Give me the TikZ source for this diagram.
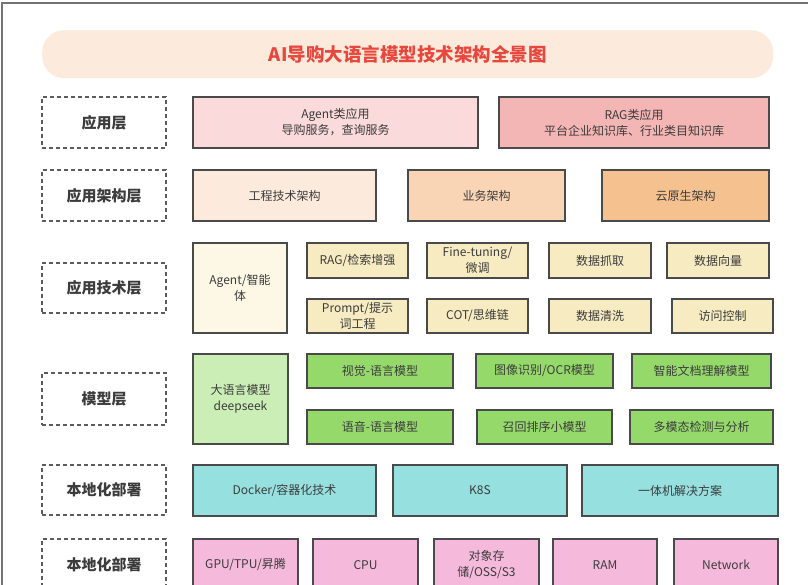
\documentclass[tikz,border=0pt]{standalone}
\usepackage{fontspec}
\setmainfont{Noto Sans CJK SC}
\definecolor{txt}{HTML}{3C3C3C}
\definecolor{bd}{HTML}{4A4A4A}
\definecolor{titlebg}{HTML}{FCEBDC}
\definecolor{titlefg}{HTML}{E8473E}
\definecolor{cA}{HTML}{FADADB}
\definecolor{cB}{HTML}{F4B6B5}
\definecolor{cC}{HTML}{FCEBDC}
\definecolor{cD}{HTML}{F9D5B5}
\definecolor{cE}{HTML}{F4C18F}
\definecolor{cF}{HTML}{FDF8E5}
\definecolor{cG}{HTML}{F6EBC1}
\definecolor{cH}{HTML}{CBEEB6}
\definecolor{cI}{HTML}{95D96B}
\definecolor{cJ}{HTML}{97E0E0}
\definecolor{cK}{HTML}{F5B9DB}
\tikzset{
  boxbase/.style={draw=bd, line width=1.4pt, anchor=north west, inner sep=0pt, outer sep=0pt,
    align=center, text=txt, font=\fontsize{12}{16}\selectfont},
  layerlbl/.style={draw=bd!90, dashed, dash pattern=on 4pt off 3pt, line width=1.3pt, anchor=north west,
    inner sep=0pt, outer sep=0pt, align=center, text=txt, font=\fontsize{15}{18}\selectfont\bfseries},
}
% box: name, x1, y1, x2, y2, color, text
\newcommand\mybox[7]{%
  \pgfmathsetmacro\bw{#4-#2}\pgfmathsetmacro\bh{#5-#3}%
  \node[boxbase, fill=#6, minimum width=\bw pt, minimum height=\bh pt] (#1) at (#2,#3) {#7};}
\newcommand\mylbl[6]{%
  \pgfmathsetmacro\bw{#4-#2}\pgfmathsetmacro\bh{#5-#3}%
  \node[layerlbl, minimum width=\bw pt, minimum height=\bh pt] (#1) at (#2,#3) {#6};}
\begin{document}
\begin{tikzpicture}[x=1pt,y=-1pt]
\clip (0,0) rectangle (808,585);
\fill[white] (0,0) rectangle (808,585);
\draw[line width=2pt, color=black!55] (1.5,585) -- (1.5,3) -- (808,3);
% title
\node[fill=titlebg, rounded corners=22pt, minimum width=731pt, minimum height=48pt, inner sep=0pt, anchor=north west,
  text=titlefg, font=\fontsize{18.5}{22}\selectfont\bfseries] (title) at (42,30) {AI导购大语言模型技术架构全景图};
% row 1
\mylbl{l1}{42}{97}{166}{148}{应用层}
\mybox{a1}{193}{97}{478}{148}{cA}{Agent类应用\\导购服务，查询服务}
\mybox{a2}{499}{97}{769}{148}{cB}{RAG类应用\\平台企业知识库、行业类目知识库}
% row 2
\mylbl{l2}{42}{170}{166}{221}{应用架构层}
\mybox{b1}{193}{170}{376}{221}{cC}{工程技术架构}
\mybox{b2}{408}{170}{565}{221}{cD}{业务架构}
\mybox{b3}{602}{170}{769}{221}{cE}{云原生架构}
% row 3
\mylbl{l3}{42}{263}{166}{313}{应用技术层}
\mybox{c0}{193}{243}{287}{333}{cF}{Agent/智能\\体}
\mybox{c1}{307}{243}{408}{278}{cG}{RAG/检索增强}
\mybox{c2}{427}{243}{528}{278}{cG}{Fine-tuning/\\微调}
\mybox{c3}{549}{243}{651}{278}{cG}{数据抓取}
\mybox{c4}{667}{243}{769}{278}{cG}{数据向量}
\mybox{c5}{307}{299}{408}{333}{cG}{Prompt/提示\\词工程}
\mybox{c6}{427}{299}{528}{333}{cG}{COT/思维链}
\mybox{c7}{549}{299}{651}{333}{cG}{数据清洗}
\mybox{c8}{672}{299}{773}{333}{cG}{访问控制}
% row 4
\mylbl{l4}{42}{373}{166}{425}{模型层}
\mybox{d0}{193}{354}{288}{444}{cH}{大语言模型\\deepseek}
\mybox{d1}{307}{354}{453}{388}{cI}{视觉-语言模型}
\mybox{d2}{476}{354}{613}{388}{cI}{图像识别/OCR模型}
\mybox{d3}{632}{354}{771}{388}{cI}{智能文档理解模型}
\mybox{d4}{307}{410}{453}{444}{cI}{语音-语言模型}
\mybox{d5}{477}{410}{612}{444}{cI}{召回排序小模型}
\mybox{d6}{630}{410}{773}{444}{cI}{多模态检测与分析}
% row 5
\mylbl{l5}{42}{465}{166}{515}{本地化部署}
\mybox{e1}{193}{465}{376}{516}{cJ}{Docker/容器化技术}
\mybox{e2}{393}{465}{567}{516}{cJ}{K8S}
\mybox{e3}{582}{465}{778}{516}{cJ}{一体机解决方案}
% row 6
\mylbl{l6}{42}{539}{166}{590}{本地化部署}
\mybox{f1}{193}{539}{298}{591}{cK}{GPU/TPU/昇腾}
\mybox{f2}{313}{539}{418}{591}{cK}{CPU}
\mybox{f3}{434}{539}{539}{591}{cK}{对象存\\储/OSS/S3}
\mybox{f4}{553}{539}{657}{591}{cK}{RAM}
\mybox{f5}{674}{539}{778}{591}{cK}{Network}
\end{tikzpicture}
\end{document}
